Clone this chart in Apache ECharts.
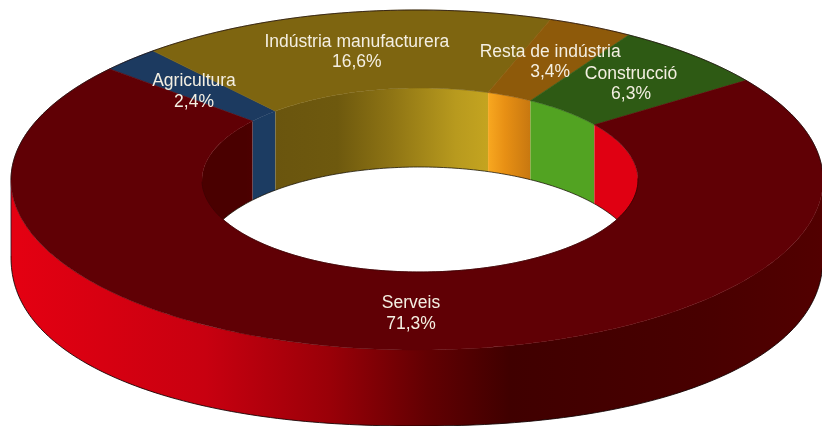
<!DOCTYPE html>
<html><head><meta charset="utf-8">
<style>html,body{margin:0;padding:0;background:#fff}#c{width:822px;height:426px}</style>
<script src="https://cdn.jsdelivr.net/npm/echarts@6/dist/echarts.min.js"></script>
</head><body><div id="c"></div>
<script>
const categories = ['Agricultura','Indústria manufacturera','Resta de indústria','Construcció','Serveis'];
const shares = [2.4,16.6,3.4,6.3,71.3];
const shareLabels = ['2,4%','16,6%','3,4%','6,3%','71,3%'];

const START = 139.2, DEPTH = 76, INNER_DEPTH = 79, INNER_TURN = 1;
const OUT = {cx:417,cy:180,rx:406,ry:170,n:2}, OUT_BASE = {cx:417,cy:256,rx:406,ry:170,n:2.2};
const INN = {cx:420,cy:180,rx:218,ry:92,n:2,turn:INNER_TURN};
const labelNudge = [[-3,4],[-2,0.5],[0,1],[2,1],[4,3]];
const topColors = ['#1c3a60','#7e6510','#8e5a0a','#2e5a14','#600005'];
const G = (x0,x1,stops)=>new echarts.graphic.LinearGradient(x0,0,x1,0,stops.map(s=>({offset:s[0],color:s[1]})),true);
const outerFill = () => G(0,822,[[0,'#e60012'],[0.25,'#c80010'],[0.4,'#9a0008'],[0.52,'#620002'],[0.62,'#400000'],[0.85,'#480000'],[1,'#520000']]);
const wallFills = [
  () => '#1c3c62',
  () => G(273,488,[[0,'#6a550e'],[0.3,'#6e590e'],[0.55,'#8e7414'],[0.85,'#b89a1e'],[1,'#c4a420']]),
  () => G(488,530,[[0,'#f8a820'],[0.4,'#e89014'],[1,'#c87810']]),
  () => '#52a322',
  () => G(202,640,[[0,'#4a0000'],[0.1,'#4a0000'],[0.9,'#e00012'],[1,'#e00012']])
];

const total = shares.reduce((a,b)=>a+b,0);
const spans = []; { let a = START; shares.forEach(s=>{ const b = a - s/total*360; spans.push([b,a]); a = b; }); }
const pw = (v,n) => Math.sign(v)*Math.pow(Math.abs(v),2/n);
const pt = (e,t,dz) => { const r=(t+(e.turn||0))*Math.PI/180; return [e.cx+e.rx*pw(Math.cos(r),e.n), e.cy-e.ry*pw(Math.sin(r),e.n)+(dz||0)]; };
const arc = (e,a,b,dz) => { const n=Math.max(2,Math.ceil(Math.abs(b-a)/1)), o=[]; for(let i=0;i<=n;i++) o.push(pt(e,a+(b-a)*i/n,dz)); return o; };
const clip = (span,lo,hi) => { const o=[]; for(let k=-2;k<=2;k++){ const a=Math.max(span[0],lo+360*k), b=Math.min(span[1],hi+360*k); if(b>a) o.push([a,b]); } return o; };
const poly = (pts,fill,extra) => ({type:'polygon',shape:{points:pts},style:Object.assign({fill:fill},extra||{})});
const line = (pts,w,c) => ({type:'polyline',shape:{points:pts},style:{fill:null,stroke:c||'#1a0505',lineWidth:w||1}});
const dataRows = categories.map((c,i)=>({name:c,value:[shares[i]]}));

function outerWalls(p){
  const ch=[];
  clip(spans[p.dataIndex],180,360).forEach(s=>{
    ch.push(poly(arc(OUT,s[0],s[1]).concat(arc(OUT_BASE,s[1],s[0])),outerFill()));
    ch.push(line(arc(OUT_BASE,s[0],s[1]),1,'rgba(15,0,0,0.85)'));
    ch.push(line([pt(OUT,180),pt(OUT_BASE,180)],1,'rgba(30,20,40,0.8)'));
  });
  return {type:'group',children:ch};
}
function innerWalls(p){
  const ch=[];
  clip(spans[p.dataIndex],-INNER_TURN,180-INNER_TURN).forEach(s=>{
    ch.push(poly(arc(INN,s[0],s[1]).concat(arc(INN,s[1],s[0],INNER_DEPTH)),wallFills[p.dataIndex]()));
    ch.push(line(arc(INN,s[0],s[1],INNER_DEPTH),1,'rgba(20,15,0,0.75)'));
  });
  return {type:'group',children:ch};
}
function topFaces(p){
  const s=spans[p.dataIndex];
  const f=topColors[p.dataIndex];
  const ch=[poly(arc(OUT,s[0],s[1]).concat(arc(INN,s[1],s[0])),f,{stroke:f,lineWidth:0.6})];
  clip(s,0,180).forEach(c=>ch.push(line(arc(OUT,c[0],c[1]),1,'rgba(25,10,10,0.75)')));
  clip(s,180,360).forEach(c=>ch.push(line(arc(INN,c[0],c[1]),0.8,'#3a0002')));
  return {type:'group',children:ch};
}
function labels(p){
  const i=p.dataIndex, s=spans[i], m=(s[0]+s[1])/2;
  const a=pt(OUT,m), b=pt(INN,m);
  const x=(a[0]+b[0])/2+labelNudge[i][0], y=(a[1]+b[1])/2+labelNudge[i][1];
  return {type:'text',style:{x:x,y:y,text:categories[i]+'\n'+shareLabels[i],fill:'#f4efe2',
    font:'17.5px "Liberation Sans", Arial, sans-serif',lineHeight:20.5,align:'center',verticalAlign:'middle'}};
}
const S=(fn,z)=>({type:'custom',coordinateSystem:'none',renderItem:fn,data:dataRows,z:z,silent:true,animation:false,clip:false});
const chart=echarts.init(document.getElementById('c'),null,{renderer:'canvas'});
chart.setOption({animation:false,backgroundColor:'#fff',series:[S(outerWalls,1),S(innerWalls,2),S(topFaces,3),S(labels,4)]});
</script></body></html>
